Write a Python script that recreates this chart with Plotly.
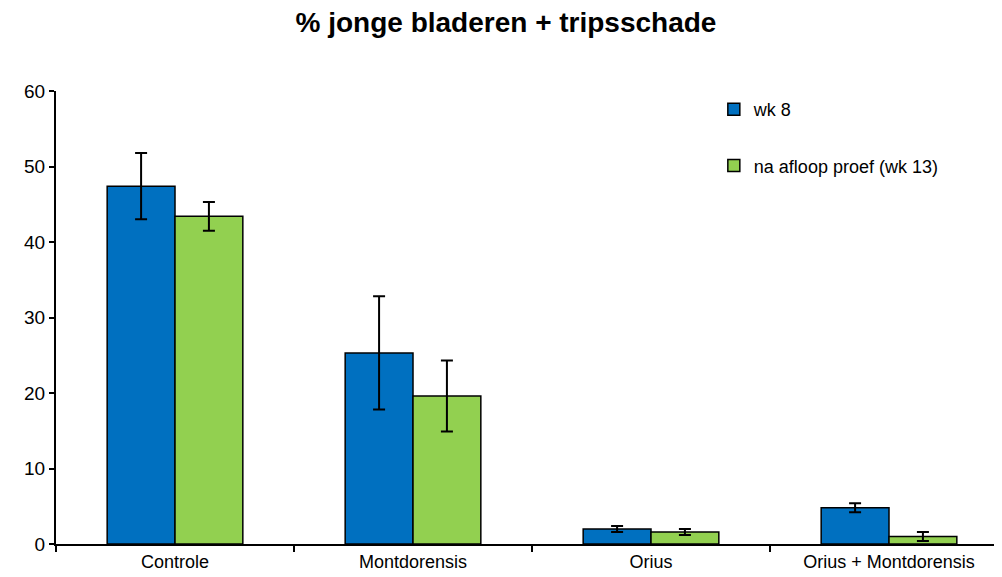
import plotly.graph_objects as go

categories = ["Controle", "Montdorensis", "Orius", "Orius + Montdorensis"]
wk8 = [47.4, 25.3, 2.0, 4.8]
wk8_err = [4.4, 7.5, 0.4, 0.6]
wk13 = [43.4, 19.6, 1.6, 1.0]
wk13_err = [1.9, 4.7, 0.4, 0.6]
series_names = ["wk 8", "na afloop proef (wk 13)"]

fig = go.Figure()
fig.add_trace(go.Bar(
    x=categories, y=wk8, name=series_names[0], legendgroup="a",
    marker=dict(color="#0070C0", line=dict(color="black", width=1.5)),
    error_y=dict(type="data", array=wk8_err, color="black", thickness=2, width=6),
))
fig.add_trace(go.Bar(
    x=categories, y=wk13, name=series_names[1], legendgroup="b",
    marker=dict(color="#92D050", line=dict(color="black", width=1.5)),
    error_y=dict(type="data", array=wk13_err, color="black", thickness=2, width=6),
))

fig.update_layout(
    width=1002, height=577,
    paper_bgcolor="white", plot_bgcolor="white",
    margin=dict(l=48, r=2, t=83, b=41),
    barmode="group", bargap=0.43, bargroupgap=0,
    font=dict(family="Liberation Sans, Arial, sans-serif", size=18, color="black"),
    title=dict(text="<b>% jonge bladeren + tripsschade</b>", x=0.497, xanchor="center",
               y=0.976, yanchor="middle", font=dict(size=28)),
    legend=dict(x=0.691, y=1.0, xanchor="left", yanchor="top", tracegroupgap=30,
                bgcolor="rgba(0,0,0,0)", font=dict(size=18)),
    showlegend=True,
)
fig.update_xaxes(showline=True, linecolor="black", linewidth=2, ticks="outside",
                 tickson="boundaries", ticklen=6, tickwidth=2, tickcolor="black",
                 showgrid=False, tickfont=dict(size=18))
fig.update_yaxes(range=[0, 60], dtick=10, showline=True, linecolor="black", linewidth=2,
                 ticks="outside", ticklen=5, tickwidth=2, tickcolor="black",
                 showgrid=False, zeroline=False, tickfont=dict(size=19))

fig.write_html("out.html")
